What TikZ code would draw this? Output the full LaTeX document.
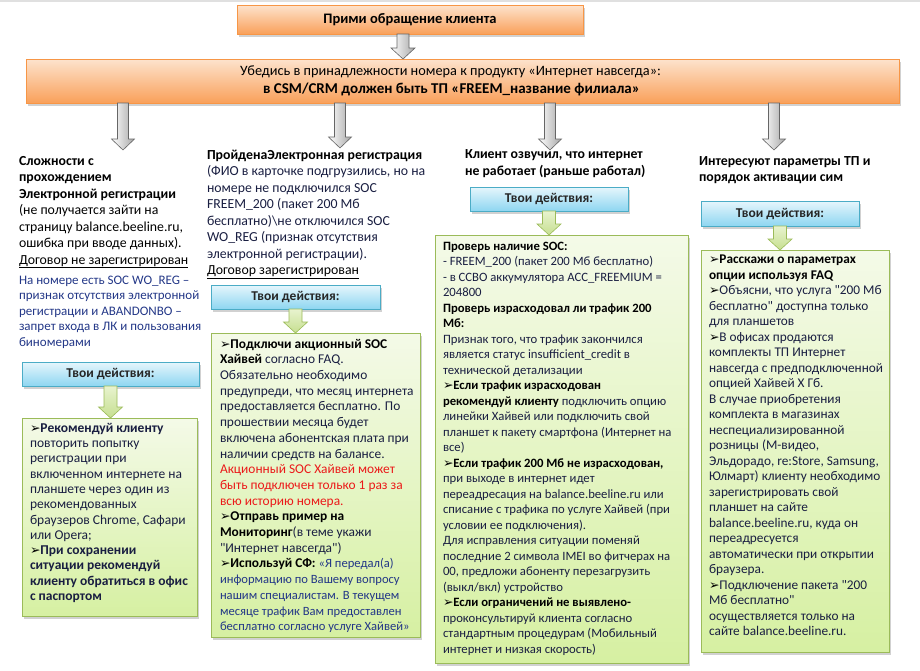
\documentclass[tikz,border=0pt]{standalone}
\usepackage{fontspec}
\setmainfont{Carlito}[Ligatures=TeXOff]
\newfontfamily\symfont{DejaVu Sans}
\usetikzlibrary{shadows,calc}
\definecolor{orT}{HTML}{FDE3CD}
\definecolor{orB}{HTML}{F9A05A}
\definecolor{orD}{HTML}{F79646}
\definecolor{cyT}{HTML}{E6F6FC}
\definecolor{cyB}{HTML}{8ED6F1}
\definecolor{cyD}{HTML}{4BACC6}
\definecolor{grT}{HTML}{F4FAE8}
\definecolor{grB}{HTML}{D6F0A2}
\definecolor{grD}{HTML}{9BBB59}
\definecolor{grA}{HTML}{E8F3CF}
\definecolor{grA2}{HTML}{C6DF90}
\definecolor{darkt}{RGB}{25,30,65}
\definecolor{navy}{RGB}{35,55,135}
\definecolor{redt}{RGB}{235,25,25}
\newcommand\bul{{\symfont\fontsize{12.5}{12}\selectfont\color{black}➢}}
\newcommand\nv[1]{{\color{navy}\fontsize{12.6}{15.7}\selectfont #1}}
\newcommand\barrow[5]{\draw[#1] let \p1=#2, \p2=#3 in
  (\x1-#4pt,\y1) -- (\x1+#4pt,\y1) -- (\x1+#4pt,\y2+11pt) -- (\x1+#5pt,\y2+11pt)
  -- (\x1,\y2) -- (\x1-#5pt,\y2+11pt) -- (\x1-#4pt,\y2+11pt) -- cycle;}
\tikzset{
  every node/.style={inner sep=0pt, outer sep=0pt},
  shad/.style={drop shadow={shadow xshift=1.5pt, shadow yshift=-2.5pt, opacity=0.3, fill=black!60}},
  obox/.style={draw=orD, line width=0.8pt, top color=orT, bottom color=orB, shad},
  cbox/.style={draw=cyD, line width=0.8pt, top color=cyT, bottom color=cyB, shad,
    minimum height=24pt, font=\bfseries\fontsize{13.5}{15}\selectfont, text=black!85},
  gbox/.style={draw=grD, line width=0.8pt, top color=grT, bottom color=grB, shad, anchor=north west},
  fl/.style={anchor=north west, align=left, execute at begin node={\rule{0pt}{11pt}}},
  hdr/.style={fl, font=\fontsize{13.8}{16.5}\selectfont},
  btxt/.style={fl, font=\fontsize{12.5}{15.5}\selectfont, text=darkt},
  garrow/.style={draw=black!60, line width=0.6pt, left color=white, right color=black!35},
  larrow/.style={draw=grD, line width=0.6pt, top color=grA, bottom color=grA2},
}
\begin{document}
\begin{tikzpicture}[x=1pt,y=-1pt]
\useasboundingbox (0,0) rectangle (920,670);
\fill[black!12] (0,0) rectangle (920,2);

% top boxes
\node[obox, minimum width=346pt, minimum height=29pt, font=\bfseries\fontsize{14.5}{16}\selectfont] (top) at (410,19.5) {Прими обращение клиента};
\node[obox, minimum width=873pt, minimum height=44pt, align=center, font=\fontsize{14.3}{17.5}\selectfont] (main) at (462.5,81)
  {Убедись в принадлежности номера к продукту «Интернет навсегда»:\hspace*{24pt}\\ {\bfseries\fontsize{15}{17.5}\selectfont в CSM/CRM должен быть ТП «FREEM\_название  филиала»}\hspace*{22pt}};

\coordinate (ga0) at (403,0);
\barrow{garrow}{(top.south -| ga0)}{(main.north -| ga0)}{6}{12}

% gray arrow targets
\coordinate (ga1) at (123,150);
\coordinate (ga2) at (340,148);
\coordinate (ga3) at (550,150);
\coordinate (ga4) at (774,150);
\barrow{garrow}{(main.south -| ga1)}{(ga1)}{5.5}{11.5}
\barrow{garrow}{(main.south -| ga2)}{(ga2)}{5.5}{11.5}
\barrow{garrow}{(main.south -| ga3)}{(ga3)}{5.5}{11.5}
\barrow{garrow}{(main.south -| ga4)}{(ga4)}{5.5}{11.5}

% column 1
\node[hdr] (h1) at (19,156) {{\bfseries Сложности с}\\ {\bfseries прохождением}\\ {\bfseries Электронной регистрации}\\ (не получается зайти на\\ страницу balance.beeline.ru,\\ ошибка при вводе данных).\\ \underline{Договор не зарегистрирован}};
\node[hdr, font=\fontsize{13}{15.5}\selectfont, text=navy] (n1) at (19,276) {На номере есть SOC WO\_REG –\\ признак отсутствия электронной\\ регистрации и ABANDONBO –\\ запрет входа в ЛК и пользования\\ биномерами};
\node[cbox, minimum width=177pt] (c1) at (110.5,374) {Твои действия:};
\node[gbox, minimum width=175pt, minimum height=198pt] (g1) at (22,418) {};
\barrow{larrow}{(c1.south)}{(g1.north -| c1.south)}{6.5}{12}
\node[btxt, font=\fontsize{13.5}{15.3}\selectfont] (t1) at (30,423) {\bul{\bfseries Рекомендуй клиенту}\\ повторить попытку\\ регистрации при\\ включенном интернете на\\ планшете через один из\\ рекомендованных\\ браузеров Chrome, Сафари\\ или Opera;\\ \bul{\bfseries При сохранении}\\ {\bfseries ситуации  рекомендуй}\\ {\bfseries клиенту обратиться  в офис}\\ {\bfseries с паспортом}};

% column 2
\node[hdr, text=darkt] (h2) at (207,150) {{\bfseries\color{black}ПройденаЭлектронная регистрация}\\ (ФИО в карточке подгрузились, но на\\ номере не подключился SOC\\ FREEM\_200 (пакет 200 Мб\\ бесплатно)\textbackslash не отключился SOC\\ WO\_REG (признак отсутствия\\ электронной регистрации).\\ {\color{black}\underline{Договор  зарегистрирован}}};
\node[cbox, minimum width=169pt] (c2) at (295.5,297) {Твои действия:};
\node[gbox, minimum width=209pt, minimum height=304pt] (g2) at (211,333) {};
\barrow{larrow}{(c2.south)}{(g2.north -| c2.south)}{6.5}{12}
\node[btxt, font=\fontsize{13.4}{15.7}\selectfont] (t2) at (220,339) {\bul{\bfseries\color{black}Подключи акционный  SOC}\\ {\bfseries\color{black}Хайвей} согласно FAQ.\\ Обязательно необходимо\\ предупреди, что месяц интернета\\ предоставляется бесплатно. По\\ прошествии месяца будет\\ включена абонентская плата при\\ наличии средств на балансе.\\ {\color{redt}Акционный SOC Хайвей может}\\ {\color{redt}быть подключен только 1 раз за}\\ {\color{redt}всю историю номера.}\\ \bul{\bfseries\color{black}Отправь пример на}\\ {\bfseries\color{black}Мониторинг}(в теме укажи\\ "Интернет навсегда")\\ \bul{\bfseries\color{black}Используй СФ:} \nv{«Я передал(а)}\\ \nv{информацию по Вашему вопросу}\\ \nv{нашим специалистам. В текущем}\\ \nv{месяце трафик Вам предоставлен}\\ \nv{бесплатно согласно  услуге  Хайвей»}};

% column 3
\node[hdr, font=\bfseries\fontsize{13.8}{17}\selectfont] (h3) at (465,150) {Клиент озвучил, что интернет\\ не работает (раньше работал)};
\node[cbox, minimum width=158pt] (c3) at (549,199) {Твои действия:};
\node[gbox, minimum width=253pt, minimum height=428pt] (g3) at (435,235) {};
\barrow{larrow}{(c3.south)}{(g3.north -| c3.south)}{6.5}{12}
\node[btxt, font=\fontsize{12.7}{15.5}\selectfont] (t3) at (443,242) {{\bfseries\color{black}Проверь наличие  SOC:}\\ - FREEM\_200 (пакет 200 Мб бесплатно)\\ - в ССВО аккумулятора ACC\_FREEMIUM =\\ 204800\\ {\bfseries\color{black}Проверь израсходовал  ли трафик  200}\\ {\bfseries\color{black}Мб:}\\ Признак того, что трафик закончился\\ является статус insufficient\_credit в\\ технической детализации\\ \bul{\bfseries\color{black}Если трафик  израсходован}\\ {\bfseries\color{black}рекомендуй клиенту} подключить опцию\\ линейки Хайвей или подключить свой\\ планшет к пакету смартфона (Интернет на\\ все)\\ \bul{\bfseries\color{black}Если трафик  200 Мб не израсходован,}\\ при выходе в интернет идет\\ переадресация на balance.beeline.ru или\\ списание с трафика по услуге Хайвей (при\\ условии ее подключения).\\ Для исправления ситуации поменяй\\ последние 2 символа IMEI во фитчерах на\\ 00, предложи абоненту перезагрузить\\ (выкл/вкл) устройство\\ \bul{\bfseries\color{black}Если ограничений  не выявлено-}\\ проконсультируй  клиента согласно\\ стандартным  процедурам  (Мобильный\\ интернет и  низкая скорость)};

% column 4
\node[hdr, font=\bfseries\fontsize{13.8}{16}\selectfont] (h4) at (699,157) {Интересуют параметры ТП и\\ порядок активации сим};
\node[cbox, minimum width=158pt, minimum height=25pt] (c4) at (780,213.5) {Твои действия:};
\node[gbox, minimum width=188pt, minimum height=402pt] (g4) at (701,250) {};
\barrow{larrow}{(c4.south)}{(g4.north -| c4.south)}{6.5}{12}
\node[btxt, font=\fontsize{13.3}{15.5}\selectfont] (t4) at (709,255) {\bul{\bfseries\color{black}Расскажи о параметрах}\\ {\bfseries\color{black}опции используя FAQ}\\ \bul Объясни, что услуга "200 Мб\\ бесплатно" доступна только\\ для планшетов\\ \bul В офисах продаются\\ комплекты ТП Интернет\\ навсегда с предподключенной\\ опцией Хайвей Х Гб.\\ В случае приобретения\\ комплекта в магазинах\\ неспециализированной\\ розницы (М-видео,\\ Эльдорадо, re:Store, Samsung,\\ Юлмарт) клиенту необходимо\\ зарегистрировать свой\\ планшет на сайте\\ balance.beeline.ru, куда он\\ переадресуется\\ автоматически при открытии\\ браузера.\\ \bul Подключение пакета "200\\ Мб бесплатно"\\ осуществляется только на\\ сайте balance.beeline.ru.};
\end{tikzpicture}
\end{document}
